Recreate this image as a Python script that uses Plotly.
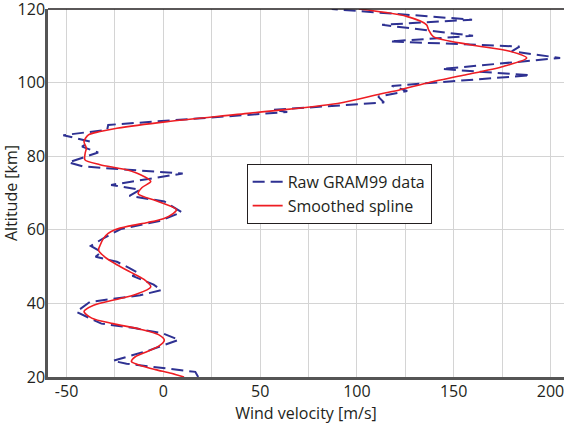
import plotly.graph_objects as go

# Raw GRAM99 profile (altitude km, wind m/s)
raw_alt = [20.0, 21.4, 23.6, 24.4, 27.3, 28.6, 30.1, 31.8, 33.3, 34.5, 37.7, 40.4, 41.1, 42.2,
           43.6, 45.1, 47.5, 48.3, 49.6, 51.3, 52.7, 54.0, 55.6, 57.7, 60.2, 62.4, 64.8, 67.7,
           69.2, 70.9, 72.2, 75.3, 77.2, 78.3, 81.0, 82.6, 84.0, 85.7, 87.2, 88.5, 92.0, 92.6,
           94.6, 96.2, 97.7, 99.1, 102.0, 103.7, 106.7, 108.5, 109.8, 111.2, 112.7, 115.7,
           117.1, 120.0]
raw_wind = [18, 16.5, -19, -26, -7, 0, 8, 0, -15, -32, -45, -38, -27, -12,
            -1, -5, -16, -13, -17.5, -24, -35, -32, -37.5, -31, -22, -2, 9.5, 0.5,
            -17.5, -12, -27, 10, -41.5, -49, -33.7, -42, -38, -51.7, -29, -28.5, 64, 57,
            114, 111, 126, 118, 189.6, 144, 205, 180, 184, 117, 160, 113,
            159.5, 87]

# Smoothed spline profile
spl_alt = [20, 21, 22, 23, 24.2, 25.5, 27, 28.5, 30, 31.5, 33, 34.5, 36, 37.8, 39.5, 41, 42.5,
           44.5, 46.5, 48.5, 50.5, 52.5, 54.5, 56, 57.6, 59, 60, 61, 62, 63, 64.4, 65.5, 67.7,
           69.8, 71.5, 73.1, 74.5, 76.3, 77.7, 79, 80.8, 82.2, 84, 85.8, 86.7, 87.6, 89.4,
           91.7, 94.3, 96.9, 98, 100.1, 102, 104.4, 106.7, 108.5, 110.3, 112.5, 114.4, 115.7,
           118, 120]
spl_wind = [10.7, 4, -4, -11, -16.5, -14.5, -8, -2, 0.5, -2.5, -12, -26, -37, -41, -36, -25, -14,
            -6.5, -10, -17, -24, -30, -33.5, -32.5, -31, -28.5, -25, -18, -8, 0, 5, 6.8, -2.7,
            -13, -11, -6.5, -10, -19, -32.7, -40.5, -40.4, -39.8, -41, -38.7, -32.7, -24, 2,
            45, 90, 112, 122, 137.8, 155, 175.6, 187.7, 179, 158.4, 139.5, 137, 136,
            125.7, 101]

x_ticks = [-50, 0, 50, 100, 150, 200]
y_ticks = [20, 40, 60, 80, 100, 120]

FONT = "Open Sans"

fig = go.Figure()
fig.add_trace(go.Scatter(
    x=raw_wind, y=raw_alt, mode="lines", name="Raw GRAM99 data",
    line=dict(color="#2E3192", width=2, dash="12px,6px")))
fig.add_trace(go.Scatter(
    x=spl_wind, y=spl_alt, mode="lines", name="Smoothed spline",
    line=dict(color="#EE1D23", width=1.6, shape="spline", smoothing=0.8)))

fig.update_layout(
    width=564, height=424,
    margin=dict(l=48, r=0, t=9, b=47),
    paper_bgcolor="white", plot_bgcolor="white",
    font=dict(family=FONT, size=16, color="#231F20"),
    showlegend=True,
    legend=dict(x=0.385, y=0.579, xanchor="left", yanchor="top",
                bgcolor="white", bordercolor="#231F20", borderwidth=1,
                font=dict(family=FONT, size=16, color="#231F20"),
                itemwidth=30, tracegroupgap=0),
    shapes=[dict(type="line", xref="paper", yref="paper", x0=0, x1=1, y0=1, y1=1,
                 line=dict(color="#231F20", width=1.5))],
)
fig.update_xaxes(
    range=[-59.6, 207], tickvals=x_ticks, ticktext=[str(v) for v in x_ticks],
    showgrid=True, gridcolor="#D4D4D4", gridwidth=1,
    minor=dict(dtick=25, tick0=0, showgrid=True, gridcolor="#D4D4D4", gridwidth=1),
    showline=True, linecolor="#555555", linewidth=2.5, ticks="", zeroline=False,
    automargin=False, ticklabelstandoff=-2, ticklabeloverflow="allow",
    title=dict(text="Wind velocity [m/s]", standoff=0, font=dict(size=16)),
)
fig.update_yaxes(
    range=[20, 120], tickvals=y_ticks, ticktext=[str(v) for v in y_ticks],
    showgrid=True, gridcolor="#D4D4D4", gridwidth=1,
    showline=True, linecolor="#555555", linewidth=2.5, ticks="", zeroline=False,
    automargin=False, ticklabelstandoff=-3, ticklabeloverflow="allow",
    title=dict(text="Altitude [km]", standoff=2, font=dict(size=16)),
)

fig.write_html("out.html", config={"displayModeBar": False},
               post_script="document.body.style.margin='0';")
